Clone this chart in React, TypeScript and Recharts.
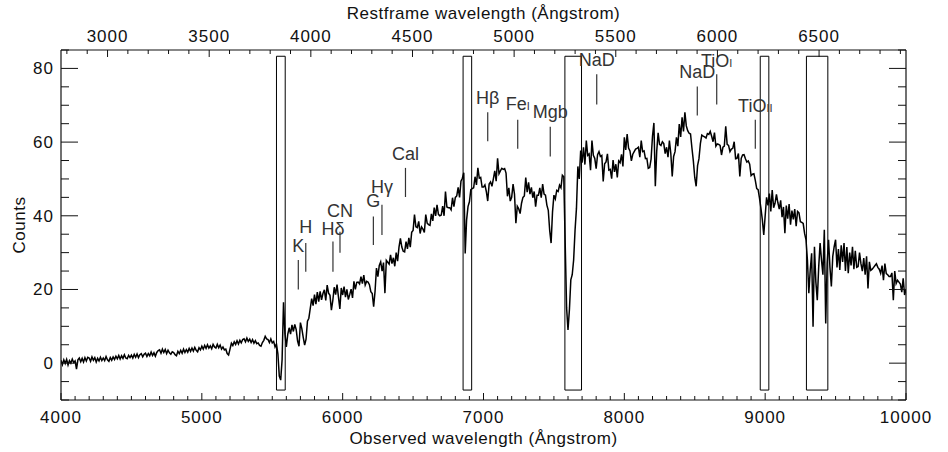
import React from 'react';
import { ComposedChart, Line, XAxis, YAxis, ReferenceArea, ReferenceLine, Label } from 'recharts';

// observed spectrum, sampled every 10 Angstrom from 4000 to 10000
const START_WL = 4000;
const STEP_WL = 10;
const FLUX = [
  0.8, -0.4, 0.9, -0.1, 1.0, -0.5, 0.7, 0.0, 1.1, 0.2,
  0.6, -1.6, 0.9, 1.4, 0.4, 1.3, 0.3, 1.5, 0.6, 1.6,
  1.4, 0.5, 1.7, 0.8, 1.5, 0.3, 1.3, 0.6, 1.6, 0.7,
  1.4, 0.7, 1.8, 0.9, 0.5, 1.5, 0.8, 1.7, 1.0, 1.9,
  1.2, 2.1, 1.1, 2.0, 1.3, 2.3, 1.4, 1.2, 2.1, 1.5,
  2.2, 1.4, 2.4, 1.6, 2.5, 1.5, 2.3, 2.6, 1.7, 2.4,
  2.7, 1.8, 2.6, 2.0, 3.0, 2.1, 2.8, 1.9, 2.9, 3.4,
  3.6, 2.7, 3.8, 2.9, 3.7, 2.6, 3.5, 2.8, 2.4, 3.1,
  2.9, 2.3, 2.0, 3.2, 2.6, 3.5, 2.7, 3.8, 2.9, 3.7,
  3.0, 4.0, 3.2, 4.1, 3.3, 4.3, 3.5, 3.1, 4.2, 3.6,
  4.6, 3.8, 4.8, 4.0, 5.0, 4.1, 4.7, 3.9, 5.1, 4.4,
  4.1, 5.1, 4.2, 4.9, 3.8, 4.4, 3.6, 3.8, 2.6, 2.2,
  3.8, 5.4, 4.8, 5.8, 5.1, 6.1, 5.2, 6.2, 5.5, 6.4,
  6.6, 5.8, 6.8, 5.9, 6.5, 5.6, 6.4, 5.4, 6.1, 5.3,
  5.5, 4.8, 4.6, 5.6, 6.2, 7.3, 6.6, 6.4, 5.6, 6.6,
  5.5, 5.9, 4.4, 5.2, 2.5, -3.5, -4.6, 1.0, 16.5, 8.0,
  4.4, 7.8, 9.6, 7.9, 10.4, 8.6, 10.5, 9.1, 6.0, 4.6,
  11.0, 9.4, 7.0, 4.9, 6.5, 11.4, 12.2, 14.9, 17.5, 15.6,
  18.6, 16.0, 19.3, 16.7, 19.5, 17.2, 18.9, 19.9, 17.0, 21.2,
  19.0, 18.4, 14.4, 17.0, 20.6, 18.6, 21.3, 18.0, 14.7, 20.4,
  18.5, 20.8, 17.9, 20.0, 17.3, 18.6, 20.1, 17.7, 22.2, 20.0,
  21.9, 22.0, 21.5, 23.5, 21.6, 23.9, 21.2, 22.2, 22.0, 21.3,
  19.4, 18.9, 15.3, 19.5, 25.8, 23.5, 26.5, 27.5, 25.0, 27.3,
  19.0, 27.9, 27.4, 26.9, 29.4, 27.0, 28.6, 26.3, 30.0, 27.7,
  31.5, 33.9, 31.5, 30.4, 30.2, 33.0, 31.0, 34.0, 31.5, 35.5,
  36.0, 40.3, 37.0, 36.8, 38.5, 35.2, 37.0, 36.4, 35.5, 40.3,
  38.0, 37.6, 37.4, 40.5, 38.6, 42.2, 40.0, 43.0, 40.4, 40.0,
  40.2, 42.6, 40.0, 46.6, 42.4, 42.2, 42.2, 41.6, 44.9, 42.5,
  45.0, 45.4, 47.7, 45.0, 49.4, 50.2, 51.7, 29.8, 38.9, 42.5,
  43.8, 47.1, 47.4, 47.6, 50.6, 48.4, 53.0, 50.2, 50.4, 47.8,
  47.8, 48.4, 46.6, 44.0, 48.6, 49.2, 48.0, 50.0, 52.2, 49.4,
  55.6, 51.4, 52.2, 52.9, 52.6, 52.8, 51.6, 45.3, 47.6, 44.0,
  45.0, 48.6, 45.9, 38.0, 42.6, 41.9, 40.6, 43.4, 45.0, 45.4,
  50.4, 46.4, 49.1, 45.9, 47.7, 44.9, 46.6, 42.5, 45.6, 45.6,
  47.6, 44.9, 48.6, 45.9, 45.6, 42.9, 41.5, 36.0, 32.6, 41.0,
  45.6, 44.6, 46.9, 46.6, 48.3, 47.6, 51.0, 50.6, 32.6, 15.0,
  9.0, 14.5, 22.6, 24.0, 28.0, 36.0, 42.0, 53.4, 50.0, 57.7,
  54.4, 58.6, 53.9, 60.4, 56.4, 56.8, 52.4, 60.4, 56.4, 55.6,
  52.8, 56.6, 57.4, 56.1, 56.4, 49.3, 54.1, 54.6, 56.8, 52.4,
  52.6, 50.1, 55.1, 51.9, 54.0, 50.4, 54.9, 54.4, 56.7, 53.4,
  61.3, 57.9, 62.2, 58.4, 57.6, 54.9, 56.7, 57.4, 58.1, 58.3,
  58.6, 55.9, 60.4, 57.4, 57.6, 55.5, 55.6, 52.9, 53.1, 55.4,
  61.6, 65.2, 48.0, 57.6, 62.5, 59.4, 59.1, 60.1, 59.6, 56.9,
  58.6, 55.9, 60.4, 56.9, 50.7, 56.1, 57.4, 61.3, 58.9, 64.9,
  61.4, 66.7, 62.9, 68.1, 64.4, 63.1, 62.4, 62.2, 58.4, 54.9,
  50.4, 48.0, 53.6, 55.5, 59.6, 61.9, 61.6, 61.4, 61.1, 62.3,
  62.1, 62.9, 61.6, 60.1, 62.6, 58.9, 59.5, 59.4, 59.1, 56.5,
  58.6, 58.9, 64.3, 59.4, 59.1, 57.4, 58.1, 58.3, 60.1, 55.5,
  55.6, 56.9, 50.7, 55.6, 56.5, 56.6, 55.5, 54.6, 54.9, 54.0,
  50.9, 51.3, 51.4, 49.6, 47.4, 47.1, 44.7, 42.0, 38.9, 34.8,
  40.0, 45.0, 42.8, 46.0, 41.2, 47.0, 42.2, 43.4, 45.8, 43.6,
  41.8, 44.2, 39.6, 42.4, 35.3, 42.8, 39.2, 43.2, 37.6, 41.4,
  39.0, 41.8, 37.2, 41.2, 40.8, 38.4, 38.2, 37.9, 35.2, 33.5,
  28.0, 19.0, 25.3, 29.8, 9.9, 31.6, 22.0, 17.1, 26.0, 32.6,
  28.0, 24.0, 36.2, 10.8, 27.0, 33.5, 26.0, 20.8, 29.0, 31.6,
  33.5, 26.0, 31.0, 25.3, 32.0, 27.5, 32.6, 25.0, 31.5, 24.4,
  30.0, 26.5, 31.6, 25.5, 30.5, 26.0, 26.2, 30.0, 27.0, 25.0,
  28.5, 24.0, 29.0, 20.3, 27.5, 25.2, 25.5, 26.0, 26.5, 27.0,
  26.0, 25.5, 24.4, 26.5, 22.5, 27.0, 24.3, 24.0, 23.5, 23.5,
  24.5, 17.1, 25.0, 21.6, 22.5, 22.0, 21.5, 19.3, 23.0, 18.5,
  20.0,
];

// (1 + z) between observed and restframe wavelength
const STRETCH = 1.4435;

const OBS_MAJOR = [4000, 5000, 6000, 7000, 8000, 9000, 10000];
const REST_MAJOR = [3000, 3500, 4000, 4500, 5000, 5500, 6000, 6500];
const COUNT_MAJOR = [0, 20, 40, 60, 80];

// masked telluric regions (observed wavelength)
const BOX_START = [5530, 6855, 7578, 8965, 9293];
const BOX_END = [5592, 6916, 7696, 9026, 9445];
const BOX_LOW = -7.3;
const BOX_HIGH = 83.3;

// absorption features: name, subscript, observed wavelength, marker extent
const LINE_NAMES = ['K', 'H', 'H\u03b4', 'CN', 'G', 'H\u03b3', 'Cal', 'H\u03b2', 'Fe', 'Mgb', 'NaD', 'NaD', 'TiO', 'TiO'];
const LINE_SUBS = ['', '', '', '', '', '', '', '', 'I', '', '', '', 'I', 'II'];
const LINE_WL = [5685, 5738, 5931, 5981, 6218, 6279, 6446, 7030, 7243, 7474, 7804, 8518, 8656, 8930];
const LINE_LOW = [20.0, 24.8, 24.8, 30.0, 32.1, 34.8, 45.1, 60.2, 58.2, 56.1, 70.2, 67.2, 70.2, 58.2];
const LINE_HIGH = [28.0, 32.6, 33.0, 35.7, 39.8, 43.0, 53.0, 68.1, 66.1, 64.2, 78.4, 75.1, 78.4, 66.1];
const LABEL_GAP = [8, 10, 7, 15, 10, 12, 8, 8, 10, 9, 8, 8, 7, 8];

const data = FLUX.map((flux, i) => ({ wl: START_WL + i * STEP_WL, flux }));

const obsTicks: number[] = [];
for (let v = 4000; v <= 10000; v += 100) obsTicks.push(v);
const restTicks: number[] = [];
for (let r = 2800; r <= 6900; r += 100) restTicks.push(r * STRETCH);
const countTicks: number[] = [];
for (let c = -10; c <= 85; c += 5) countTicks.push(c);

const FONT = '"Liberation Sans", Arial, Helvetica, sans-serif';
const INK = '#111';

function BottomTick({ x, y, payload }: any) {
  const major = OBS_MAJOR.includes(payload.value);
  return (
    <g>
      <line x1={x} y1={y} x2={x} y2={y - (major ? 7 : 4)} stroke={INK} />
      {major && (
        <text x={x} y={y + 22.5} textAnchor="middle" fontSize={17} letterSpacing={1} fill={INK} fontFamily={FONT}>
          {payload.value}
        </text>
      )}
    </g>
  );
}

function TopTick({ x, y, payload }: any) {
  const rest = Math.round(payload.value / STRETCH);
  const major = REST_MAJOR.includes(rest);
  return (
    <g>
      <line x1={x} y1={y} x2={x} y2={y + (major ? 7 : 4)} stroke={INK} />
      {major && (
        <text x={x} y={y - 8.5} textAnchor="middle" fontSize={17} letterSpacing={1} fill={INK} fontFamily={FONT}>
          {rest}
        </text>
      )}
    </g>
  );
}

function LeftTick({ x, y, payload }: any) {
  const major = COUNT_MAJOR.includes(payload.value);
  return (
    <g>
      <line x1={x} y1={y} x2={x + (major ? 17 : 8)} y2={y} stroke={INK} />
      {major && (
        <text x={x - 7} y={y + 6} textAnchor="end" fontSize={17} letterSpacing={1} fill={INK} fontFamily={FONT}>
          {payload.value}
        </text>
      )}
    </g>
  );
}

function RightTick({ x, y, payload }: any) {
  const major = COUNT_MAJOR.includes(payload.value);
  return <line x1={x} y1={y} x2={x - (major ? 17 : 8)} y2={y} stroke={INK} />;
}

function markerLabel(i: number) {
  return (props: any) => {
    const vb = props.viewBox;
    const cx = vb.x + (vb.width || 0) / 2;
    return (
      <text x={cx} y={vb.y - LABEL_GAP[i]} textAnchor="middle" fontSize={18} fill="#333" fontFamily={FONT}>
        {LINE_NAMES[i]}
        {LINE_SUBS[i] ? <tspan fontSize={11}>{LINE_SUBS[i]}</tspan> : null}
      </text>
    );
  };
}

export default function App() {
  return (
    <div style={{ position: 'absolute', left: 0, top: 0 }}>
      <ComposedChart
        width={948}
        height={452}
        data={data}
        margin={{ top: 0, right: 0, bottom: 0, left: 0 }}
        style={{ fontFamily: FONT, background: '#fff' }}
      >
        <XAxis
          xAxisId="bottom"
          dataKey="wl"
          type="number"
          domain={[4000, 10000]}
          allowDataOverflow
          ticks={obsTicks}
          interval={0}
          height={52}
          tickSize={0}
          tickMargin={0}
          tickLine={false}
          tick={<BottomTick />}
          axisLine={{ stroke: INK, strokeWidth: 1.2 }}
        >
          <Label value="Observed wavelength (Ångstrom)" position="insideBottom" offset={8} fontSize={17} letterSpacing={0.5} fill={INK} />
        </XAxis>
        <XAxis
          xAxisId="top"
          orientation="top"
          dataKey="wl"
          type="number"
          domain={[4000, 10000]}
          allowDataOverflow
          ticks={restTicks}
          interval={0}
          height={50}
          tickSize={0}
          tickMargin={0}
          tickLine={false}
          tick={<TopTick />}
          axisLine={{ stroke: INK, strokeWidth: 1.2 }}
        >
          <Label value="Restframe wavelength (Ångstrom)" position="insideTop" offset={7} fontSize={17} letterSpacing={0.5} fill={INK} />
        </XAxis>
        <YAxis
          yAxisId="left"
          type="number"
          domain={[-10, 85]}
          allowDataOverflow
          ticks={countTicks}
          interval={0}
          width={61}
          tickSize={0}
          tickMargin={0}
          tickLine={false}
          tick={<LeftTick />}
          axisLine={{ stroke: INK, strokeWidth: 1.2 }}
        >
          <Label
            content={() => (
              <text x={25} y={225} transform="rotate(-90 25 225)" textAnchor="middle" fontSize={17} letterSpacing={0.5} fill={INK} fontFamily={FONT}>
                Counts
              </text>
            )}
          />
        </YAxis>
        <YAxis
          yAxisId="right"
          orientation="right"
          type="number"
          domain={[-10, 85]}
          allowDataOverflow
          ticks={countTicks}
          interval={0}
          width={42}
          tickSize={0}
          tickMargin={0}
          tickLine={false}
          tick={<RightTick />}
          axisLine={{ stroke: INK, strokeWidth: 1.2 }}
        />

        {BOX_START.map((x1, i) => (
          <ReferenceArea
            key={`box-${i}`}
            xAxisId="top"
            yAxisId="right"
            x1={x1}
            x2={BOX_END[i]}
            y1={BOX_LOW}
            y2={BOX_HIGH}
            fill="none"
            stroke="#000"
            strokeWidth={1}
          />
        ))}

        <Line
          xAxisId="bottom"
          yAxisId="left"
          dataKey="flux"
          type="linear"
          stroke="#000"
          strokeWidth={1.5}
          dot={false}
          isAnimationActive={false}
        />

        {LINE_WL.map((wl, i) => (
          <ReferenceLine
            key={`line-${i}`}
            xAxisId="bottom"
            yAxisId="left"
            segment={[{ x: wl, y: LINE_LOW[i] }, { x: wl, y: LINE_HIGH[i] }]}
            stroke="#333"
            strokeWidth={1.2}
            label={markerLabel(i)}
          />
        ))}
      </ComposedChart>
    </div>
  );
}
